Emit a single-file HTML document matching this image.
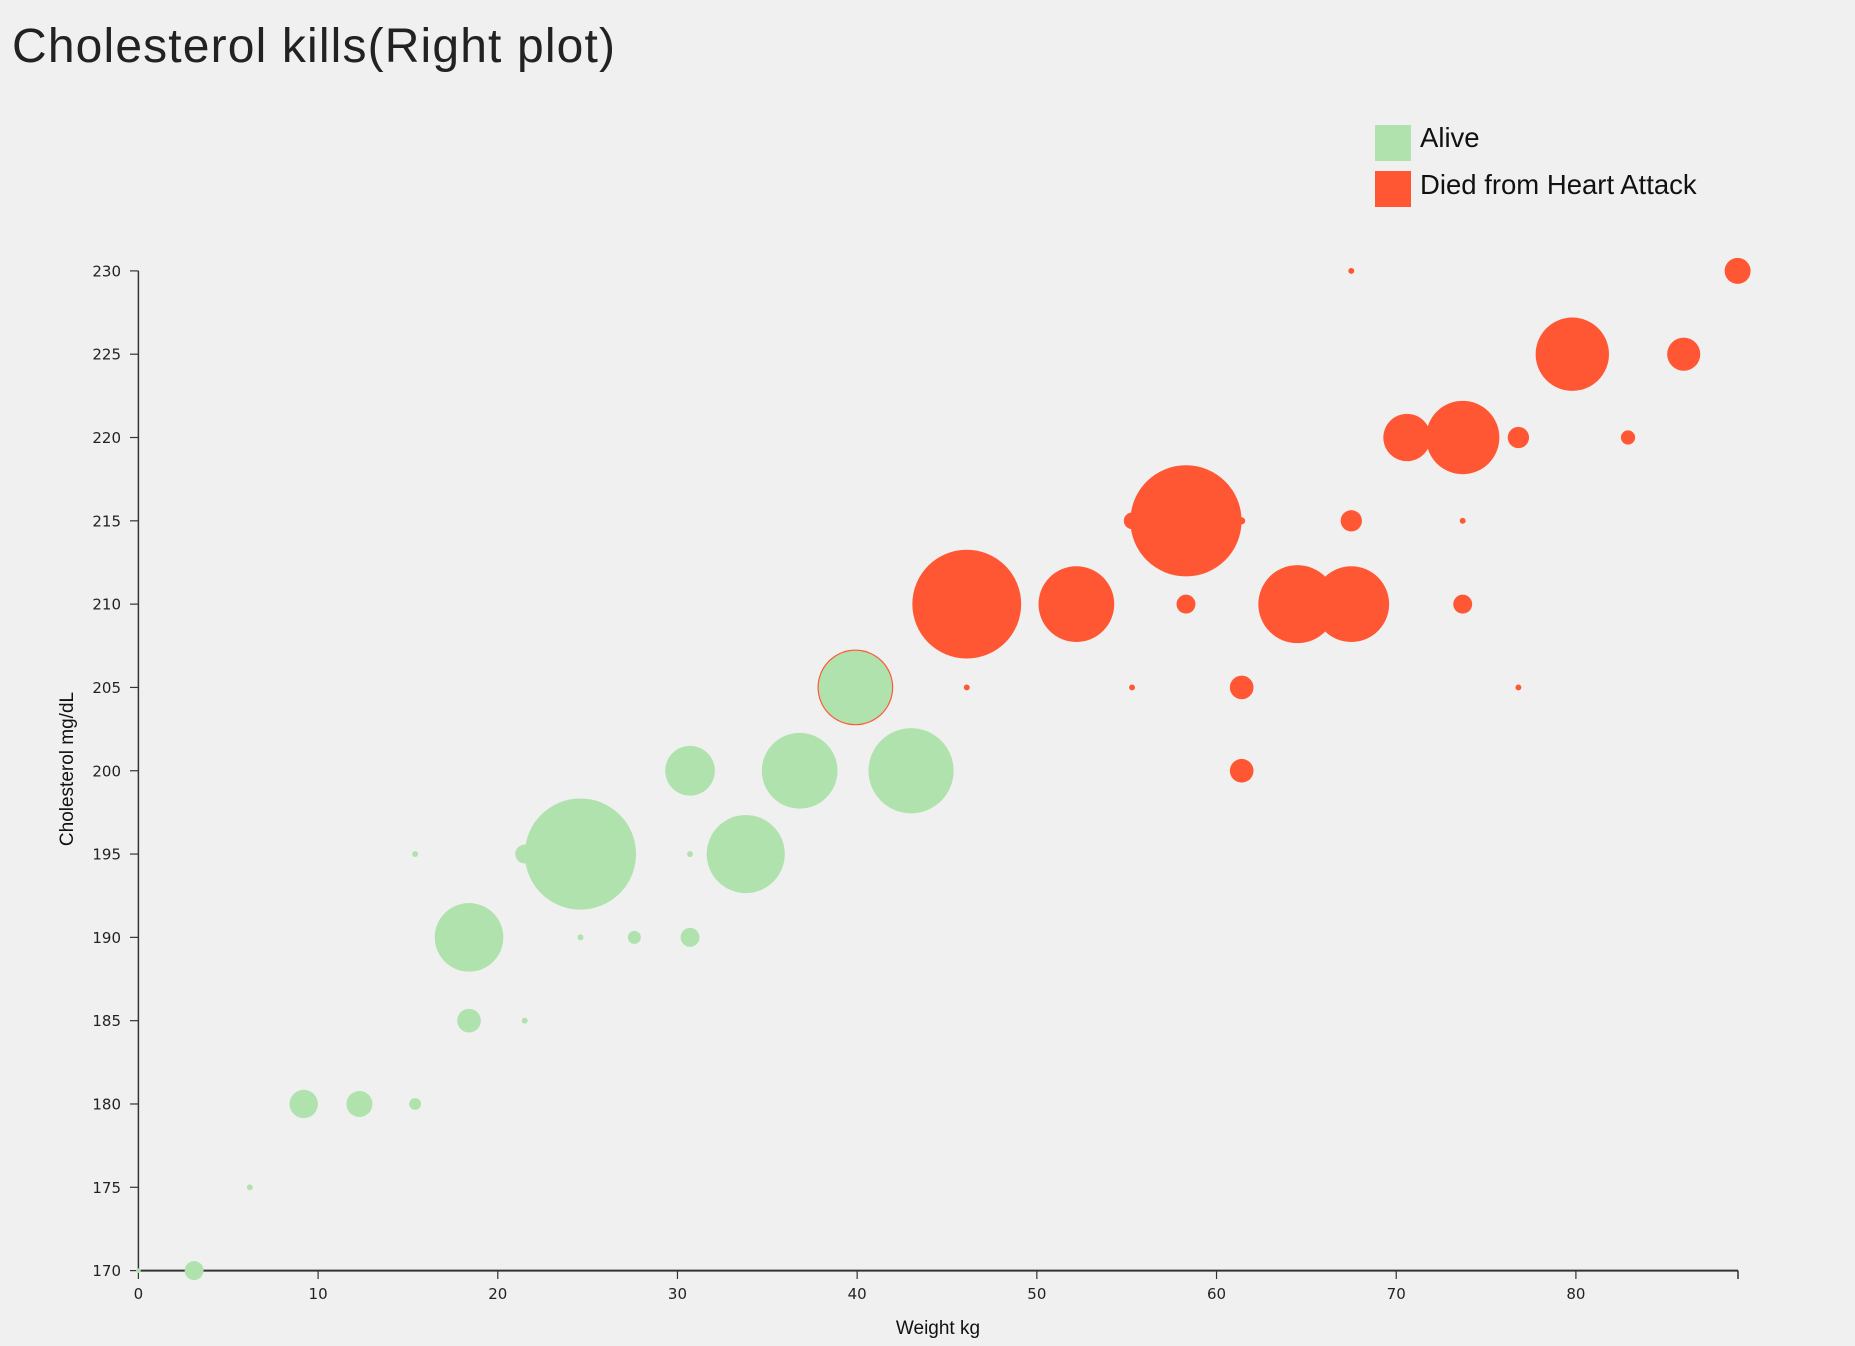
<!DOCTYPE html>
<html><head><meta charset="utf-8"><style>
html,body{margin:0;padding:0;background:#f0f0f0;}
svg{display:block;}
</style></head><body>
<svg id="chart" width="1855" height="1346" xmlns="http://www.w3.org/2000/svg">
<rect width="1855" height="1346" fill="#f0f0f0"/>
<text x="12" y="62" font-family="Liberation Sans, sans-serif" font-size="48" fill="#222" textLength="603">Cholesterol kills(Right plot)</text>
<g>
<rect x="1375" y="125" width="36" height="36" fill="#b0e2ae"/>
<text x="1420" y="147" font-family="Liberation Sans, sans-serif" font-size="27.5" fill="#111">Alive</text>
<rect x="1375" y="171" width="36" height="36" fill="#ff5733"/>
<text x="1420" y="194" font-family="Liberation Sans, sans-serif" font-size="27.5" fill="#111">Died from Heart Attack</text>
</g>
<g id="axes"></g>
<g id="marks"></g>
<text x="938" y="1334" text-anchor="middle" font-family="Liberation Sans, sans-serif" font-size="19" fill="#111">Weight kg</text>
<text transform="translate(73,769) rotate(-90)" text-anchor="middle" font-family="Liberation Sans, sans-serif" font-size="19" fill="#111">Cholesterol mg/dL</text>
</svg>
<script>
const xTicks = [0,10,20,30,40,50,60,70,80];
const yTicks = [170,175,180,185,190,195,200,205,210,215,220,225,230];
const aliveWeight = [0,3.1,6.2,9.2,12.3,15.4,15.4,18.4,18.4,21.5,21.5,24.6,24.6,27.6,30.7,30.7,30.7,33.8,36.8,39.9,43];
const aliveChol = [170,170,175,180,180,180,195,185,190,185,195,195,190,190,190,195,200,195,200,205,200];
const aliveSize = [2,8,2.5,12,11,5,2.5,10,29,2.5,8,47,2.5,5.5,8,2.5,21,33,32,31,36];
const diedWeight = [39.9,46.1,46.1,52.2,55.3,55.3,58.3,58.3,61.4,61.4,61.4,64.5,67.5,67.5,67.5,70.6,73.7,73.7,73.7,76.8,76.8,79.8,82.9,86,89];
const diedChol = [205,210,205,210,215,205,215,210,215,205,200,210,210,215,230,220,220,215,210,220,205,225,220,225,230];
const diedSize = [32,46,2.5,32,7,2.5,47,8,3,10,10,33,32,9,2.5,20,31,2.5,8,9,2.5,31,6,14,11];

const NS='http://www.w3.org/2000/svg';
const K=1855/1568;
const xs=v=>138.4+v*(1575.9-138.4)/80;
const ys=v=>1270.6-(v-170)*(1270.6-270.9)/60;
const axes=document.getElementById('axes');
const marks=document.getElementById('marks');
function mk(tag,attrs,parent){const e=document.createElementNS(NS,tag);for(const k in attrs)e.setAttribute(k,attrs[k]);parent.appendChild(e);return e;}

const xl=mk('line',{x1:138.4,y1:1270.6,x2:1738,y2:1270.6,stroke:'#333','stroke-width':2},axes);


const xe=mk('line',{x1:1738,y1:1270.6,x2:1738,y2:1279,stroke:'#333','stroke-width':1.5},axes);


const yl=mk('line',{x1:138.4,y1:270.9,x2:138.4,y2:1270.6,stroke:'#333','stroke-width':1.5},axes);


xTicks.forEach(t=>{
  const l=mk('line',{x1:xs(t),y1:1270.6,x2:xs(t),y2:1279,stroke:'#333','stroke-width':1.2},axes);
  
  
  const tx=mk('text',{x:xs(t),y:1299,'text-anchor':'middle','font-family':'DejaVu Sans, sans-serif','font-size':15,fill:'#222'},axes);
  tx.textContent=t;
  
  
});
yTicks.forEach(t=>{
  const l=mk('line',{x1:130,y1:ys(t),x2:138.4,y2:ys(t),stroke:'#333','stroke-width':1.2},axes);
  
  
  const tx=mk('text',{x:121,y:ys(t)+5.5,'text-anchor':'end','font-family':'DejaVu Sans, sans-serif','font-size':15,fill:'#222'},axes);
  tx.textContent=t;
  
  
});
diedWeight.forEach((w,i)=>{
  const c=mk('circle',{cx:xs(w),cy:ys(diedChol[i]),r:diedSize[i]*K,fill:'#ff5733'},marks);
  
  
});
aliveWeight.forEach((w,i)=>{
  const c=mk('circle',{cx:xs(w),cy:ys(aliveChol[i]),r:aliveSize[i]*K,fill:'#b0e2ae'},marks);
  
  
});
</script>
</body></html>
